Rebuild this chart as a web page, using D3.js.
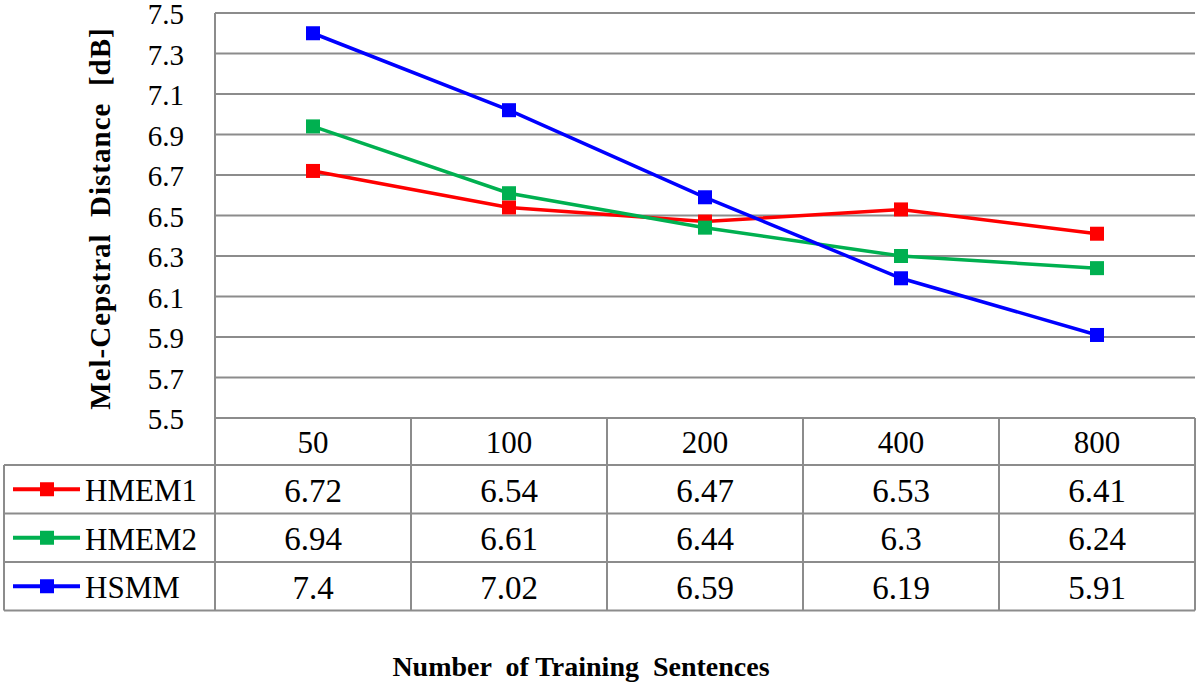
<!DOCTYPE html>
<html>
<head>
<meta charset="utf-8">
<script src="https://cdn.jsdelivr.net/npm/d3@7"></script>
<style>
  body { margin: 0; background: #fff; }
</style>
</head>
<body>
<svg id="chart"></svg>
<script>
const categories = ["50", "100", "200", "400", "800"];
const seriesNames = ["HMEM1", "HMEM2", "HSMM"];
const hmem1 = [6.72, 6.54, 6.47, 6.53, 6.41];
const hmem2 = [6.94, 6.61, 6.44, 6.3, 6.24];
const hsmm = [7.4, 7.02, 6.59, 6.19, 5.91];
const seriesColors = ["#ff0000", "#00b050", "#0000ff"];
const yTicks = [5.5, 5.7, 5.9, 6.1, 6.3, 6.5, 6.7, 6.9, 7.1, 7.3, 7.5];

const series = [hmem1, hmem2, hsmm].map((values, i) => ({
  name: seriesNames[i],
  color: seriesColors[i],
  values
}));

const width = 1200;
const height = 689;
const plotLeft = 215;
const plotRight = 1195;
const plotTop = 13;
const plotBottom = 418;
const rowH = 48.5;
const tableLeft = 4;
const gridColor = "#8c8c8c";
const serif = '"Liberation Serif"';

const svg = d3.select("#chart").attr("width", width).attr("height", height);

const x = d3.scaleBand().domain(categories).range([plotLeft, plotRight]);
const y = d3.scaleLinear().domain([5.5, 7.5]).range([plotBottom, plotTop]);

// gridlines
svg.append("g")
  .selectAll("line")
  .data(yTicks)
  .join("line")
  .attr("x1", plotLeft)
  .attr("x2", plotRight)
  .attr("y1", (d) => y(d))
  .attr("y2", (d) => y(d))
  .attr("stroke", gridColor)
  .attr("stroke-width", 2);

// y tick labels
svg.append("g")
  .selectAll("text")
  .data(yTicks)
  .join("text")
  .attr("x", 184)
  .attr("y", (d) => y(d) + 1)
  .attr("dy", "0.35em")
  .attr("text-anchor", "end")
  .style("font-family", serif)
  .style("font-size", "29px")
  .text((d) => d.toFixed(1));

// y title
svg.append("text")
  .attr("transform", `translate(110, ${(plotTop + plotBottom) / 2 + 3}) rotate(-90)`)
  .attr("text-anchor", "middle")
  .style("font-family", serif)
  .style("font-size", "29px")
  .style("font-weight", "bold")
  .style("letter-spacing", "1px")
  .style("white-space", "pre")
  .text("Mel-Cepstral  Distance  [dB]");

// table
const tableTop = plotBottom;
const headerBottom = tableTop + 47;
const table = svg.append("g");

// horizontal borders
const hLines = [
  { y: tableTop, x1: plotLeft },
  { y: headerBottom, x1: tableLeft },
  { y: headerBottom + rowH, x1: tableLeft },
  { y: headerBottom + 2 * rowH, x1: tableLeft },
  { y: headerBottom + 3 * rowH, x1: tableLeft }
];
table.selectAll("line.h")
  .data(hLines)
  .join("line")
  .attr("class", "h")
  .attr("x1", (d) => d.x1)
  .attr("x2", plotRight)
  .attr("y1", (d) => d.y)
  .attr("y2", (d) => d.y)
  .attr("stroke", gridColor)
  .attr("stroke-width", 2);

// vertical borders
const vLines = categories.map((c) => x(c)).concat([plotRight]);
table.selectAll("line.v")
  .data(vLines)
  .join("line")
  .attr("class", "v")
  .attr("x1", (d) => d)
  .attr("x2", (d) => d)
  .attr("y1", (d, i) => (i === 0 ? plotTop : tableTop))
  .attr("y2", headerBottom + 3 * rowH)
  .attr("stroke", gridColor)
  .attr("stroke-width", 2);
table.append("line")
  .attr("x1", tableLeft).attr("x2", tableLeft)
  .attr("y1", headerBottom).attr("y2", headerBottom + 3 * rowH)
  .attr("stroke", gridColor).attr("stroke-width", 2);

// header
table.selectAll("text.cat")
  .data(categories)
  .join("text")
  .attr("class", "cat")
  .attr("x", (d) => x(d) + x.bandwidth() / 2)
  .attr("y", (tableTop + headerBottom) / 2 + 1)
  .attr("dy", "0.35em")
  .attr("text-anchor", "middle")
  .style("font-family", serif)
  .style("font-size", "31px")
  .text((d) => d);

// rows
series.forEach((s, r) => {
  const cy = headerBottom + rowH * r + rowH / 2;
  const row = table.append("g");
  row.selectAll("text")
    .data(s.values)
    .join("text")
    .attr("x", (d, i) => x(categories[i]) + x.bandwidth() / 2)
    .attr("y", cy + 1)
    .attr("dy", "0.35em")
    .attr("text-anchor", "middle")
    .style("font-family", serif)
    .style("font-size", "33px")
    .text((d) => d);
  row.append("line")
    .attr("x1", 13).attr("x2", 80)
    .attr("y1", cy).attr("y2", cy)
    .attr("stroke", s.color).attr("stroke-width", 4);
  row.append("rect")
    .attr("x", 47 - 7).attr("y", cy - 7)
    .attr("width", 14).attr("height", 14)
    .attr("fill", s.color);
  row.append("text")
    .attr("x", 85)
    .attr("y", cy + 1)
    .attr("dy", "0.35em")
    .style("font-family", serif)
    .style("font-size", "31px")
    .text(s.name);
});

// lines and markers
const line = d3.line()
  .x((d, i) => x(categories[i]) + x.bandwidth() / 2)
  .y((d) => y(d));

series.forEach((s) => {
  svg.append("path")
    .datum(s.values)
    .attr("d", line)
    .attr("fill", "none")
    .attr("stroke", s.color)
    .attr("stroke-width", 3.5);
  svg.append("g")
    .selectAll("rect")
    .data(s.values)
    .join("rect")
    .attr("x", (d, i) => x(categories[i]) + x.bandwidth() / 2 - 7)
    .attr("y", (d) => y(d) - 7)
    .attr("width", 14)
    .attr("height", 14)
    .attr("fill", s.color);
});

// x title
svg.append("text")
  .attr("x", 581)
  .attr("y", 676)
  .attr("text-anchor", "middle")
  .style("font-family", serif)
  .style("font-size", "28px")
  .style("font-weight", "bold")
  .style("white-space", "pre")
  .text("Number  of Training  Sentences");
</script>
</body>
</html>
